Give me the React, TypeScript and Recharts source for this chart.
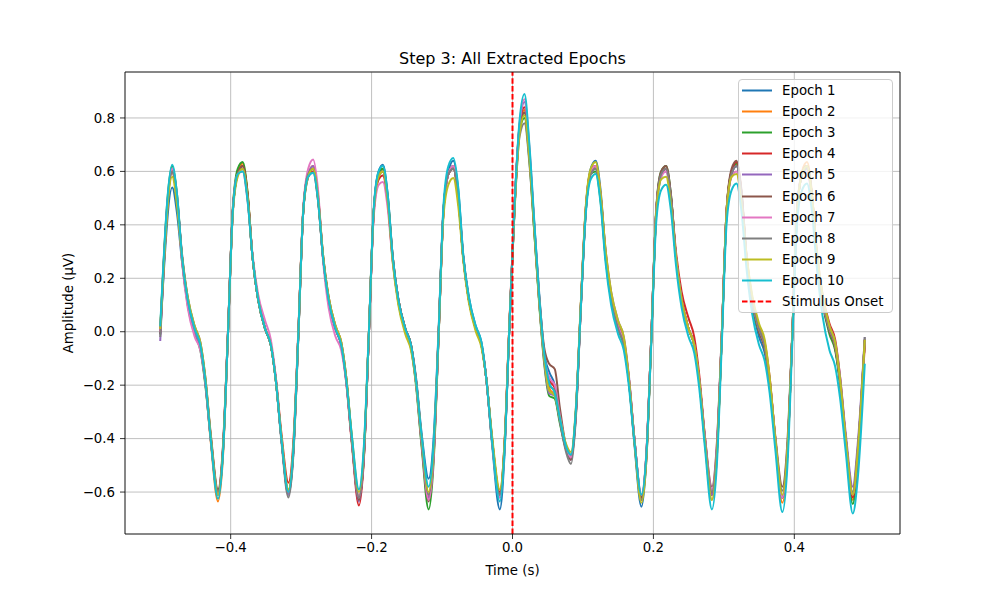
import { CartesianGrid, Legend, Line, LineChart, ReferenceLine, XAxis, YAxis } from "recharts";

// sample times (s), shared by all epochs
const time = [
  -0.5,
  -0.483, -0.476, -0.469, -0.461, -0.451, -0.443, -0.436, -0.428, -0.418, -0.411, -0.404, -0.397, -0.39,
  -0.383, -0.376, -0.369, -0.361, -0.351, -0.343, -0.336, -0.328, -0.318, -0.311, -0.304, -0.297, -0.29,
  -0.283, -0.276, -0.269, -0.261, -0.251, -0.243, -0.236, -0.228, -0.218, -0.211, -0.204, -0.197, -0.19,
  -0.184, -0.177, -0.17, -0.162, -0.152, -0.144, -0.137, -0.129, -0.119, -0.112, -0.105, -0.098, -0.091,
  -0.084, -0.077, -0.07, -0.062, -0.052, -0.044, -0.037, -0.029, -0.018, -0.011, -0.005, 0.003, 0.01,
  0.017, 0.024, 0.031, 0.038, 0.045, 0.052, 0.06, 0.067, 0.076, 0.083, 0.09, 0.097, 0.104, 0.111,
  0.118, 0.125, 0.132, 0.14, 0.15, 0.158, 0.165, 0.173, 0.183, 0.19, 0.197, 0.204, 0.211,
  0.218, 0.225, 0.232, 0.24, 0.25, 0.258, 0.265, 0.273, 0.283, 0.29, 0.297, 0.304, 0.311,
  0.318, 0.325, 0.332, 0.34, 0.35, 0.358, 0.365, 0.373, 0.383, 0.39, 0.397, 0.404, 0.411,
  0.418, 0.425, 0.432, 0.44, 0.45, 0.458, 0.465, 0.473, 0.483, 0.49, 0.5,
];

const epoch1 = [
  -0.01,
  0.54, 0.44, 0.26, 0.11, 0.0, -0.06, -0.19, -0.41, -0.61, -0.45, -0.02, 0.45, 0.59,
  0.62, 0.51, 0.28, 0.12, 0.01, -0.05, -0.18, -0.4, -0.6, -0.44, -0.01, 0.45, 0.58,
  0.61, 0.5, 0.29, 0.13, 0.02, -0.04, -0.17, -0.4, -0.62, -0.46, -0.02, 0.45, 0.6,
  0.625, 0.51, 0.28, 0.12, 0.01, -0.05, -0.17, -0.38, -0.55, -0.4, 0.0, 0.46, 0.6,
  0.64, 0.53, 0.29, 0.13, 0.02, -0.04, -0.18, -0.42, -0.665, -0.44, -0.02, 0.47, 0.76,
  0.82, 0.66, 0.4, 0.14, -0.08, -0.15, -0.2, -0.32, -0.43, -0.46, -0.29, 0.1, 0.46, 0.61,
  0.64, 0.53, 0.3, 0.13, 0.02, -0.04, -0.18, -0.42, -0.655, -0.48, -0.03, 0.44, 0.58,
  0.61, 0.5, 0.28, 0.12, 0.01, -0.05, -0.18, -0.4, -0.61, -0.45, -0.02, 0.45, 0.59,
  0.62, 0.51, 0.27, 0.1, -0.02, -0.08, -0.2, -0.41, -0.62, -0.46, -0.02, 0.45, 0.59,
  0.62, 0.51, 0.28, 0.12, 0.0, -0.06, -0.19, -0.4, -0.61, -0.45, -0.03,
];
const epoch2 = [
  0.0,
  0.61, 0.5, 0.27, 0.11, 0.0, -0.06, -0.19, -0.42, -0.635, -0.47, -0.02, 0.46, 0.6,
  0.63, 0.52, 0.28, 0.12, 0.01, -0.05, -0.18, -0.4, -0.6, -0.44, -0.01, 0.46, 0.59,
  0.62, 0.51, 0.29, 0.13, 0.02, -0.04, -0.17, -0.4, -0.62, -0.46, -0.02, 0.45, 0.59,
  0.61, 0.5, 0.28, 0.12, 0.01, -0.05, -0.18, -0.4, -0.61, -0.45, -0.01, 0.45, 0.59,
  0.62, 0.51, 0.28, 0.12, 0.01, -0.05, -0.18, -0.41, -0.61, -0.41, -0.01, 0.47, 0.76,
  0.83, 0.66, 0.38, 0.11, -0.1, -0.21, -0.24, -0.33, -0.44, -0.47, -0.3, 0.1, 0.46, 0.6,
  0.62, 0.51, 0.29, 0.12, 0.01, -0.05, -0.18, -0.41, -0.63, -0.47, -0.02, 0.45, 0.59,
  0.61, 0.5, 0.28, 0.12, 0.01, -0.05, -0.18, -0.41, -0.63, -0.47, -0.02, 0.46, 0.6,
  0.63, 0.52, 0.28, 0.11, 0.0, -0.06, -0.19, -0.41, -0.64, -0.48, -0.02, 0.46, 0.6,
  0.635, 0.52, 0.28, 0.12, 0.0, -0.06, -0.19, -0.41, -0.63, -0.47, -0.03,
];
const epoch3 = [
  0.01,
  0.62, 0.51, 0.27, 0.1, -0.01, -0.07, -0.2, -0.41, -0.61, -0.45, -0.02, 0.46, 0.61,
  0.635, 0.52, 0.28, 0.12, 0.01, -0.05, -0.18, -0.4, -0.61, -0.45, -0.02, 0.45, 0.59,
  0.61, 0.5, 0.28, 0.12, 0.01, -0.05, -0.18, -0.41, -0.63, -0.47, -0.02, 0.45, 0.59,
  0.61, 0.5, 0.27, 0.11, 0.0, -0.06, -0.2, -0.43, -0.665, -0.49, -0.03, 0.45, 0.59,
  0.62, 0.51, 0.28, 0.12, 0.01, -0.05, -0.18, -0.41, -0.62, -0.42, -0.02, 0.47, 0.75,
  0.8, 0.64, 0.37, 0.1, -0.12, -0.24, -0.25, -0.34, -0.44, -0.47, -0.3, 0.1, 0.45, 0.59,
  0.6, 0.49, 0.28, 0.12, 0.01, -0.05, -0.18, -0.4, -0.62, -0.46, -0.02, 0.46, 0.6,
  0.62, 0.51, 0.28, 0.12, 0.01, -0.05, -0.18, -0.4, -0.61, -0.45, -0.02, 0.46, 0.6,
  0.63, 0.52, 0.28, 0.11, 0.0, -0.06, -0.19, -0.41, -0.62, -0.46, -0.02, 0.45, 0.59,
  0.62, 0.51, 0.28, 0.11, -0.01, -0.07, -0.2, -0.42, -0.645, -0.48, -0.03,
];
const epoch4 = [
  0.0,
  0.6, 0.49, 0.28, 0.12, 0.01, -0.05, -0.18, -0.4, -0.6, -0.44, -0.01, 0.45, 0.59,
  0.62, 0.51, 0.28, 0.12, 0.01, -0.05, -0.17, -0.38, -0.565, -0.41, 0.0, 0.45, 0.58,
  0.6, 0.49, 0.28, 0.12, 0.01, -0.05, -0.19, -0.42, -0.65, -0.48, -0.02, 0.44, 0.57,
  0.585, 0.48, 0.27, 0.12, 0.01, -0.05, -0.18, -0.4, -0.62, -0.46, -0.02, 0.45, 0.59,
  0.61, 0.5, 0.28, 0.12, 0.01, -0.05, -0.18, -0.4, -0.6, -0.4, -0.01, 0.48, 0.77,
  0.84, 0.67, 0.39, 0.12, -0.09, -0.18, -0.21, -0.31, -0.43, -0.47, -0.3, 0.1, 0.46, 0.6,
  0.62, 0.51, 0.3, 0.14, 0.03, -0.03, -0.17, -0.4, -0.62, -0.46, -0.02, 0.45, 0.59,
  0.61, 0.5, 0.3, 0.15, 0.05, -0.02, -0.16, -0.39, -0.61, -0.45, -0.02, 0.46, 0.6,
  0.635, 0.52, 0.29, 0.13, 0.02, -0.04, -0.17, -0.4, -0.62, -0.46, -0.02, 0.45, 0.59,
  0.62, 0.51, 0.3, 0.14, 0.03, -0.03, -0.17, -0.4, -0.62, -0.46, -0.05,
];
const epoch5 = [
  -0.035,
  0.61, 0.5, 0.27, 0.11, 0.0, -0.06, -0.19, -0.41, -0.61, -0.45, -0.02, 0.45, 0.59,
  0.61, 0.5, 0.28, 0.12, 0.01, -0.05, -0.18, -0.4, -0.61, -0.45, -0.02, 0.45, 0.59,
  0.62, 0.51, 0.28, 0.12, 0.01, -0.05, -0.18, -0.41, -0.635, -0.47, -0.02, 0.45, 0.59,
  0.6, 0.49, 0.27, 0.11, 0.0, -0.06, -0.19, -0.41, -0.62, -0.46, -0.02, 0.45, 0.59,
  0.62, 0.51, 0.28, 0.12, 0.01, -0.05, -0.18, -0.41, -0.62, -0.42, -0.02, 0.47, 0.77,
  0.86, 0.68, 0.39, 0.11, -0.11, -0.23, -0.24, -0.33, -0.44, -0.48, -0.31, 0.09, 0.45, 0.59,
  0.61, 0.51, 0.31, 0.15, 0.04, -0.02, -0.16, -0.4, -0.63, -0.47, -0.02, 0.45, 0.59,
  0.6, 0.49, 0.28, 0.12, 0.01, -0.05, -0.18, -0.4, -0.61, -0.45, -0.02, 0.45, 0.59,
  0.62, 0.51, 0.28, 0.12, 0.01, -0.05, -0.18, -0.4, -0.62, -0.46, -0.02, 0.45, 0.59,
  0.61, 0.5, 0.29, 0.13, 0.02, -0.04, -0.17, -0.38, -0.58, -0.42, -0.02,
];
const epoch6 = [
  -0.01,
  0.6, 0.49, 0.29, 0.13, 0.02, -0.04, -0.17, -0.39, -0.59, -0.43, -0.01, 0.45, 0.59,
  0.62, 0.51, 0.28, 0.12, 0.01, -0.05, -0.18, -0.4, -0.6, -0.44, -0.01, 0.45, 0.59,
  0.61, 0.5, 0.28, 0.12, 0.01, -0.05, -0.18, -0.41, -0.63, -0.47, -0.02, 0.45, 0.58,
  0.6, 0.49, 0.28, 0.12, 0.01, -0.05, -0.19, -0.42, -0.635, -0.47, -0.02, 0.45, 0.59,
  0.61, 0.5, 0.28, 0.12, 0.01, -0.05, -0.18, -0.4, -0.61, -0.41, -0.02, 0.47, 0.76,
  0.82, 0.66, 0.39, 0.13, -0.06, -0.12, -0.14, -0.28, -0.43, -0.48, -0.31, 0.09, 0.45, 0.6,
  0.62, 0.51, 0.29, 0.13, 0.02, -0.04, -0.17, -0.4, -0.62, -0.46, -0.02, 0.45, 0.6,
  0.62, 0.51, 0.28, 0.12, 0.01, -0.05, -0.18, -0.39, -0.58, -0.42, -0.01, 0.46, 0.61,
  0.64, 0.53, 0.29, 0.12, 0.0, -0.06, -0.18, -0.39, -0.58, -0.42, -0.01, 0.45, 0.59,
  0.62, 0.51, 0.28, 0.11, 0.0, -0.06, -0.19, -0.4, -0.61, -0.45, -0.03,
];
const epoch7 = [
  0.0,
  0.61, 0.5, 0.26, 0.09, -0.02, -0.07, -0.19, -0.41, -0.61, -0.45, -0.02, 0.45, 0.59,
  0.6, 0.49, 0.29, 0.14, 0.04, -0.03, -0.17, -0.4, -0.6, -0.44, -0.01, 0.46, 0.61,
  0.645, 0.53, 0.27, 0.09, -0.02, -0.07, -0.19, -0.41, -0.62, -0.46, -0.02, 0.43, 0.55,
  0.56, 0.46, 0.26, 0.11, 0.0, -0.06, -0.19, -0.41, -0.63, -0.47, -0.02, 0.45, 0.59,
  0.62, 0.51, 0.28, 0.12, 0.01, -0.05, -0.18, -0.41, -0.62, -0.42, -0.01, 0.48, 0.78,
  0.87, 0.69, 0.4, 0.12, -0.09, -0.17, -0.2, -0.31, -0.43, -0.47, -0.3, 0.1, 0.46, 0.6,
  0.62, 0.51, 0.29, 0.13, 0.02, -0.04, -0.17, -0.4, -0.61, -0.45, -0.02, 0.45, 0.58,
  0.6, 0.49, 0.28, 0.12, 0.01, -0.05, -0.18, -0.39, -0.59, -0.43, -0.01, 0.45, 0.58,
  0.6, 0.49, 0.28, 0.12, 0.01, -0.05, -0.18, -0.4, -0.62, -0.46, -0.02, 0.45, 0.59,
  0.6, 0.49, 0.28, 0.12, 0.01, -0.05, -0.18, -0.4, -0.61, -0.45, -0.03,
];
const epoch8 = [
  -0.02,
  0.6, 0.49, 0.28, 0.12, 0.01, -0.05, -0.18, -0.4, -0.6, -0.44, -0.01, 0.45, 0.59,
  0.61, 0.5, 0.28, 0.12, 0.01, -0.05, -0.18, -0.41, -0.62, -0.46, -0.02, 0.45, 0.59,
  0.61, 0.5, 0.28, 0.12, 0.01, -0.05, -0.18, -0.41, -0.62, -0.46, -0.02, 0.45, 0.59,
  0.6, 0.49, 0.28, 0.12, 0.01, -0.05, -0.18, -0.4, -0.61, -0.45, -0.02, 0.45, 0.59,
  0.61, 0.5, 0.28, 0.12, 0.01, -0.05, -0.18, -0.4, -0.61, -0.41, -0.02, 0.46, 0.73,
  0.78, 0.63, 0.37, 0.11, -0.1, -0.2, -0.22, -0.33, -0.45, -0.495, -0.32, 0.09, 0.45, 0.59,
  0.61, 0.5, 0.28, 0.12, 0.01, -0.05, -0.18, -0.41, -0.63, -0.47, -0.02, 0.45, 0.59,
  0.61, 0.5, 0.28, 0.12, 0.01, -0.05, -0.18, -0.4, -0.6, -0.44, -0.02, 0.45, 0.59,
  0.62, 0.51, 0.28, 0.12, 0.01, -0.05, -0.18, -0.4, -0.595, -0.44, -0.02, 0.45, 0.59,
  0.61, 0.5, 0.28, 0.12, 0.01, -0.05, -0.18, -0.4, -0.6, -0.44, -0.02,
];
const epoch9 = [
  0.01,
  0.58, 0.47, 0.28, 0.13, 0.02, -0.04, -0.17, -0.4, -0.61, -0.45, -0.02, 0.44, 0.58,
  0.61, 0.5, 0.28, 0.12, 0.01, -0.05, -0.18, -0.39, -0.59, -0.43, -0.01, 0.45, 0.58,
  0.61, 0.5, 0.29, 0.13, 0.02, -0.04, -0.17, -0.39, -0.6, -0.44, -0.01, 0.45, 0.58,
  0.6, 0.49, 0.26, 0.1, -0.01, -0.07, -0.19, -0.4, -0.6, -0.44, -0.02, 0.43, 0.55,
  0.575, 0.47, 0.27, 0.11, 0.0, -0.06, -0.18, -0.39, -0.59, -0.4, -0.01, 0.46, 0.74,
  0.81, 0.65, 0.38, 0.11, -0.1, -0.22, -0.24, -0.32, -0.42, -0.45, -0.28, 0.11, 0.47, 0.61,
  0.635, 0.52, 0.31, 0.15, 0.04, -0.02, -0.17, -0.41, -0.64, -0.48, -0.03, 0.44, 0.57,
  0.58, 0.47, 0.28, 0.12, 0.01, -0.05, -0.18, -0.41, -0.63, -0.47, -0.02, 0.45, 0.58,
  0.59, 0.48, 0.29, 0.14, 0.03, -0.03, -0.17, -0.4, -0.61, -0.45, -0.02, 0.45, 0.59,
  0.62, 0.51, 0.3, 0.14, 0.02, -0.04, -0.18, -0.4, -0.61, -0.45, -0.03,
];
const epoch10 = [
  0.02,
  0.625, 0.51, 0.28, 0.12, 0.01, -0.05, -0.18, -0.41, -0.625, -0.46, -0.02, 0.45, 0.59,
  0.6, 0.49, 0.28, 0.12, 0.01, -0.05, -0.18, -0.4, -0.6, -0.44, -0.01, 0.45, 0.58,
  0.595, 0.49, 0.28, 0.12, 0.01, -0.05, -0.18, -0.39, -0.59, -0.43, -0.01, 0.46, 0.6,
  0.62, 0.51, 0.28, 0.12, 0.01, -0.05, -0.18, -0.39, -0.58, -0.42, -0.01, 0.47, 0.62,
  0.65, 0.54, 0.29, 0.13, 0.02, -0.04, -0.18, -0.41, -0.635, -0.43, -0.02, 0.48, 0.79,
  0.89, 0.7, 0.41, 0.13, -0.08, -0.19, -0.23, -0.32, -0.43, -0.46, -0.29, 0.09, 0.44, 0.57,
  0.59, 0.48, 0.26, 0.1, -0.01, -0.07, -0.2, -0.41, -0.61, -0.46, -0.04, 0.41, 0.53,
  0.55, 0.45, 0.25, 0.09, -0.02, -0.08, -0.21, -0.43, -0.665, -0.5, -0.05, 0.41, 0.53,
  0.555, 0.45, 0.24, 0.07, -0.05, -0.11, -0.23, -0.44, -0.675, -0.51, -0.05, 0.41, 0.53,
  0.555, 0.45, 0.24, 0.06, -0.07, -0.13, -0.25, -0.45, -0.68, -0.55, -0.12,
];

const xTicks = [-0.4, -0.2, 0, 0.2, 0.4];
const yTicks = [-0.6, -0.4, -0.2, 0, 0.2, 0.4, 0.6, 0.8];

const X_DOMAIN: [number, number] = [-0.55, 0.55];
const Y_DOMAIN: [number, number] = [-0.757, 0.972];
const FONT = "'DejaVu Sans', sans-serif";

const series = [
  { key: "e1", name: "Epoch 1", color: "#1f77b4", values: epoch1 },
  { key: "e2", name: "Epoch 2", color: "#ff7f0e", values: epoch2 },
  { key: "e3", name: "Epoch 3", color: "#2ca02c", values: epoch3 },
  { key: "e4", name: "Epoch 4", color: "#d62728", values: epoch4 },
  { key: "e5", name: "Epoch 5", color: "#9467bd", values: epoch5 },
  { key: "e6", name: "Epoch 6", color: "#8c564b", values: epoch6 },
  { key: "e7", name: "Epoch 7", color: "#e377c2", values: epoch7 },
  { key: "e8", name: "Epoch 8", color: "#7f7f7f", values: epoch8 },
  { key: "e9", name: "Epoch 9", color: "#bcbd22", values: epoch9 },
  { key: "e10", name: "Epoch 10", color: "#17becf", values: epoch10 },
];

const rows = time.map((t, i) => {
  const row: Record<string, number> = { t };
  series.forEach((s) => {
    row[s.key] = s.values[i];
  });
  return row;
});

const fmt = (v: number) => (v < 0 ? "\u2212" : "") + Math.abs(v).toFixed(1);

const tickStyle = { fill: "#000", fontSize: 13.33, fontFamily: FONT };

function LegendBox() {
  const items = [
    ...series.map((s) => ({ name: s.name, color: s.color, dash: undefined as string | undefined })),
    { name: "Stimulus Onset", color: "#ff0000", dash: "5.5 2.4" },
  ];
  return (
    <div
      style={{
        boxSizing: "border-box",
        width: 155,
        border: "1px solid #cccccc",
        borderRadius: 4,
        background: "rgba(255,255,255,0.8)",
        fontFamily: FONT,
        fontSize: 13.33,
        color: "#000",
      }}
    >
      {items.map((it) => (
        <div key={it.name} style={{ height: 21.1, display: "flex", alignItems: "center" }}>
          <svg width={43} height={21} style={{ flex: "none" }}>
            <line x1={3} x2={33} y1={10.5} y2={10.5} stroke={it.color} strokeWidth={2} strokeDasharray={it.dash} />
          </svg>
          <span style={{ whiteSpace: "nowrap", lineHeight: "21px" }}>{it.name}</span>
        </div>
      ))}
    </div>
  );
}

export default function App() {
  return (
    <div style={{ position: "absolute", left: 0, top: 0, width: 1000, height: 600, background: "#fff" }}>
      <LineChart width={1000} height={600} data={rows} margin={{ top: 72, right: 100, bottom: 36, left: 65 }}>
        <CartesianGrid stroke="#b0b0b0" strokeWidth={0.8} />
        <XAxis
          dataKey="t"
          type="number"
          domain={X_DOMAIN}
          allowDataOverflow
          ticks={xTicks}
          tickFormatter={fmt}
          height={30}
          tickSize={5}
          tickMargin={4}
          stroke="#000"
          strokeWidth={0.8}
          tick={tickStyle}
          label={{ value: "Time (s)", position: "bottom", offset: 2, fill: "#000", fontSize: 13.33, fontFamily: FONT }}
        />
        <YAxis
          type="number"
          domain={Y_DOMAIN}
          allowDataOverflow
          ticks={yTicks}
          tickFormatter={fmt}
          width={60}
          tickSize={5}
          tickMargin={5}
          stroke="#000"
          strokeWidth={0.8}
          tick={tickStyle}
          label={{
            content: () => (
              <text
                x={72.5}
                y={303}
                transform="rotate(-90 72.5 303)"
                textAnchor="middle"
                fontSize={13.33}
                fontFamily={FONT}
                fill="#000"
              >
                Amplitude (µV)
              </text>
            ),
          }}
        />
        {series.map((s) => (
          <Line
            key={s.key}
            type="monotone"
            dataKey={s.key}
            name={s.name}
            stroke={s.color}
            strokeWidth={2}
            dot={false}
            activeDot={false}
            isAnimationActive={false}
          />
        ))}
        <ReferenceLine x={0} stroke="#ff0000" strokeWidth={2} strokeDasharray="5.5 2.4" />
        <ReferenceLine y={Y_DOMAIN[1]} stroke="#000" strokeWidth={0.8} />
        <ReferenceLine x={X_DOMAIN[1]} stroke="#000" strokeWidth={0.8} />
        <text x={512.5} y={64} textAnchor="middle" fontSize={16} fontFamily={FONT} fill="#000">
          Step 3: All Extracted Epochs
        </text>
        <Legend
          layout="vertical"
          align="center"
          verticalAlign="middle"
          content={() => <LegendBox />}
          wrapperStyle={{ left: 738, top: 79, width: 155, height: "auto" }}
        />
      </LineChart>
    </div>
  );
}
